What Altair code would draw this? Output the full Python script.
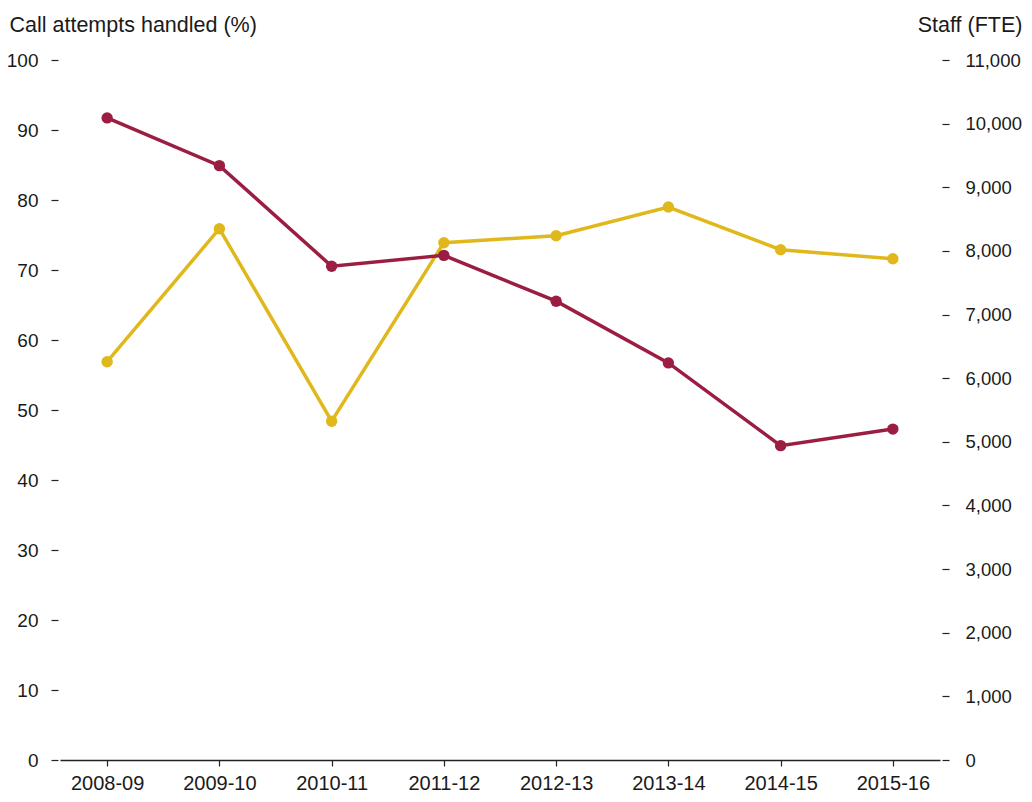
import altair as alt
import pandas as pd

years = ["2008-09", "2009-10", "2010-11", "2011-12", "2012-13", "2013-14", "2014-15", "2015-16"]
calls_pct = [56.9, 75.9, 48.4, 73.9, 74.9, 79.0, 72.9, 71.6]
staff_fte = [10090, 9340, 7760, 7930, 7210, 6240, 4940, 5200]

df = pd.DataFrame({"year": years, "calls": calls_pct, "staff": staff_fte})

FONT = "Liberation Sans"
YELLOW = "#e0b81b"
MAROON = "#9b1e42"
TXT = "#1a1a1a"

x_enc = alt.X("year:N", sort=years, title=None,
              scale=alt.Scale(type="point", padding=0.42),
              axis=alt.Axis(labelAngle=0, labelFontSize=20, labelColor=TXT, labelFont=FONT,
                            domainColor="#222222", domainWidth=1.5, tickColor="#222222",
                            tickSize=6, tickWidth=1.2, labelPadding=7, grid=False))

base = alt.Chart(df).encode(x=x_enc)

calls_line = base.mark_line(color=YELLOW, strokeWidth=3.5).encode(
    y=alt.Y("calls:Q", title="Call attempts handled (%)",
            scale=alt.Scale(domain=[0, 100], nice=False),
            axis=alt.Axis(orient="left", values=list(range(0, 101, 10)), domain=False, grid=False,
                          offset=2, tickSize=7, tickWidth=1.2, tickColor="#222222",
                          labelPadding=13, labelFontSize=19, labelColor=TXT, labelFont=FONT,
                          titleAngle=0, titleAlign="left", titleBaseline="alphabetic",
                          titleX=-49, titleY=-29, titleFontSize=21.5, titleFontWeight="normal",
                          titleFont=FONT, titleColor=TXT))
)
calls_pts = base.mark_circle(color=YELLOW, size=130, opacity=1).encode(y="calls:Q")

staff_line = base.mark_line(color=MAROON, strokeWidth=3.5).encode(
    y=alt.Y("staff:Q", title="Staff (FTE)",
            scale=alt.Scale(domain=[0, 11000], nice=False),
            axis=alt.Axis(orient="right", values=list(range(0, 11001, 1000)), format=",.0f",
                          domain=False, grid=False,
                          offset=2, tickSize=7, tickWidth=1.2, tickColor="#222222",
                          labelPadding=16, labelFontSize=18.5, labelColor=TXT, labelFont=FONT,
                          titleAngle=0, titleAlign="right", titleBaseline="alphabetic",
                          titleX=80, titleY=-29, titleFontSize=21.5, titleFontWeight="normal",
                          titleFont=FONT, titleColor=TXT))
)
staff_pts = base.mark_circle(color=MAROON, size=130, opacity=1).encode(y="staff:Q")

left = alt.layer(calls_line, calls_pts)
right = alt.layer(staff_line, staff_pts)

chart = alt.layer(left, right).resolve_scale(y="independent").properties(
    width=880, height=700,
    autosize=alt.AutoSizeParams(type="none"),
    padding={"left": 52, "top": 52, "right": 84, "bottom": 34},
).configure_view(stroke=None)

chart.save("out.html", embed_options={"renderer": "svg", "actions": False})
